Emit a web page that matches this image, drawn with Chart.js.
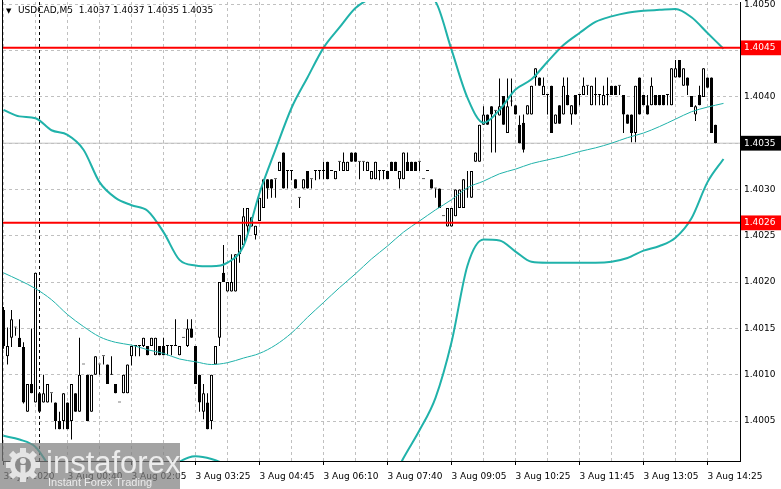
<!DOCTYPE html>
<html>
<head>
<meta charset="utf-8">
<script src="https://cdn.jsdelivr.net/npm/chart.js@4.4.0/dist/chart.umd.min.js"></script>
<style>
  html, body { margin: 0; padding: 0; background: #fff; }
  canvas { display: block; }
</style>
</head>
<body>
<canvas id="chart" width="781" height="489"></canvas>
<script>
// USDCAD M5 candles, values in pips above 1.4000 (one entry per bar)
const base = 1.4;
const opens = [
  17.0,12.0,14.0,15.1,14.0,13.0,6.0,9.0,7.0,8.0,
  7.0,7.0,8.0,7.0,5.0,5.0,7.0,5.0,8.0,6.0,
  11.1,10.0,6.0,10.0,11.1,12.0,11.1,10.0,9.0,7.0,
  8.0,8.0,12.0,13.1,13.1,13.1,13.1,13.1,12.1,13.1,
  13.1,13.1,13.1,13.1,12.1,14.0,13.1,15.0,13.1,10.0,
  6.0,7.0,5.0,11.1,14.0,21.0,19.0,19.0,19.0,23.0,
  24.0,26.0,26.0,25.1,26.6,28.0,31.1,31.1,31.1,32.0,
  34.0,32.0,32.0,31.1,29.1,30.1,32.0,31.1,32.0,32.0,
  32.0,33.0,32.0,31.1,33.0,32.0,32.0,34.0,34.0,33.0,
  33.0,32.0,31.1,31.1,32.0,32.0,32.0,33.0,33.0,31.1,
  31.1,33.0,33.0,33.0,33.0,31.1,32.0,31.1,30.1,30.1,
  27.1,26.0,26.0,27.1,28.0,28.0,30.0,29.1,33.0,33.0,
  37.0,38.1,39.0,38.5,38.0,40.1,36.1,39.5,39.1,37.0,
  37.2,38.1,38.1,42.1,42.1,40.2,40.2,41.2,37.1,39.1,
  38.1,40.2,38.1,40.2,40.2,40.2,41.2,39.1,40.2,40.2,
  39.1,40.2,41.2,41.2,41.2,40.2,38.1,38.1,36.1,42.1,
  40.2,39.1,39.1,40.2,40.2,40.2,40.2,39.1,42.1,44.0,
  41.2,42.1,40.1,38.1,40.2,40.0,42.1,42.1,37.0
];
const highs = [
  17.3,15.1,17.0,15.1,16.0,13.5,9.0,15.0,21.0,8.1,
  10.0,9.0,8.0,7.0,6.0,8.0,7.0,9.0,8.0,14.0,
  11.1,10.0,10.0,12.0,11.1,12.0,11.1,12.0,9.0,7.0,
  10.0,11.1,13.1,13.1,13.1,14.0,13.1,14.0,14.0,13.1,
  14.0,13.1,13.1,16.0,13.1,14.0,16.0,16.0,13.1,10.0,
  9.0,8.0,10.0,13.1,20.0,24.0,20.0,23.0,23.0,25.1,
  28.0,28.0,27.0,26.1,29.1,31.1,31.1,31.1,31.1,33.0,
  34.0,32.0,32.0,31.1,29.1,31.1,32.0,31.1,32.0,32.0,
  33.0,33.0,32.0,32.0,33.0,34.0,33.0,34.0,34.0,33.0,
  33.0,33.0,32.0,33.0,32.0,32.0,32.0,33.0,33.0,32.0,
  34.0,34.0,33.0,33.0,33.0,31.1,32.0,31.1,30.1,30.1,
  27.1,28.0,28.0,30.0,30.0,31.1,32.0,32.0,34.0,37.0,
  39.0,38.1,39.0,38.5,42.0,40.1,42.0,42.0,39.1,38.0,
  38.1,39.1,41.2,43.1,42.1,42.1,40.2,41.2,38.1,39.1,
  42.1,42.1,39.1,40.2,40.2,42.1,41.2,41.2,42.1,40.2,
  41.2,42.1,41.2,41.2,41.2,40.2,38.1,38.1,41.2,42.1,
  40.2,40.2,42.1,40.2,40.2,40.2,40.2,43.1,44.0,44.0,
  43.1,42.1,40.1,39.1,41.2,43.1,42.1,42.1,37.0
];
const lows = [
  12.8,11.1,13.0,14.2,13.0,6.9,6.0,8.0,7.0,6.0,
  7.0,7.0,7.0,4.1,4.1,4.1,4.1,3.0,6.0,6.0,
  11.1,5.0,6.0,10.0,10.0,11.1,9.0,10.0,8.0,7.0,
  8.0,8.0,11.0,12.0,12.0,13.0,12.1,13.1,12.1,12.1,
  12.1,12.1,12.1,13.1,12.1,14.0,13.0,14.0,9.0,6.0,
  5.2,4.1,4.1,11.1,13.1,20.0,19.0,19.0,19.0,22.1,
  24.0,25.0,26.0,24.6,26.6,28.0,29.0,29.1,29.1,32.0,
  30.1,30.1,31.0,30.1,28.0,30.1,30.1,30.1,31.0,31.1,
  31.1,31.1,32.0,31.1,32.0,32.0,32.0,33.0,33.0,31.1,
  32.0,32.0,31.1,31.1,31.0,31.1,31.1,32.0,32.0,30.1,
  31.1,32.0,32.0,32.0,32.0,31.1,32.0,30.1,29.1,28.0,
  27.1,26.0,26.0,27.1,28.0,28.0,29.1,29.1,33.0,33.0,
  37.0,37.0,34.0,34.0,38.0,37.0,36.1,39.0,38.1,35.0,
  34.0,38.1,38.1,41.2,41.2,40.2,38.1,36.1,37.1,37.1,
  38.1,39.1,37.0,38.1,39.1,40.2,40.2,39.1,39.1,39.1,
  39.1,39.1,40.2,40.2,40.2,36.1,37.1,35.1,35.1,38.1,
  39.1,38.1,39.1,39.1,39.1,39.1,39.1,39.1,42.1,42.1,
  41.2,40.2,38.9,37.4,39.1,40.0,41.0,36.1,35.0
];
const closes = [
  13.1,13.1,16.0,15.1,13.0,7.0,9.0,8.0,21.0,6.0,
  8.0,9.0,8.0,5.0,4.1,8.0,4.1,9.0,6.0,10.0,
  11.1,5.0,10.0,12.0,11.1,12.0,9.0,10.0,8.0,7.0,
  10.0,11.1,13.1,13.1,13.1,14.0,12.1,14.0,14.0,12.1,
  12.1,13.1,13.1,13.1,13.1,14.0,15.0,14.0,9.0,7.0,
  8.0,4.1,10.0,13.1,20.0,20.0,20.0,20.0,23.0,25.1,
  27.1,28.0,27.0,26.1,29.1,31.1,30.1,30.1,31.1,33.0,
  30.1,32.0,32.0,30.1,29.1,31.1,30.1,31.1,32.0,32.0,
  32.0,31.1,32.0,32.0,33.0,33.0,33.0,33.0,33.0,33.0,
  33.0,33.0,32.0,33.0,32.0,32.0,31.1,32.0,32.0,32.0,
  34.0,32.0,32.0,32.0,33.0,31.1,32.0,30.1,30.1,28.0,
  27.1,28.0,28.0,30.0,30.0,31.1,30.0,32.0,34.0,37.0,
  38.1,37.0,38.1,38.5,39.0,37.0,39.0,39.5,38.1,35.0,
  34.3,39.1,41.2,43.1,41.2,41.2,40.2,36.1,38.1,37.1,
  41.2,39.1,39.1,38.1,40.2,41.2,41.2,41.2,40.2,40.2,
  40.2,40.2,40.2,40.2,41.2,38.1,37.1,36.1,41.2,38.1,
  39.1,38.1,41.2,39.1,39.1,39.1,40.2,43.1,43.1,42.1,
  43.1,41.2,38.9,39.0,39.1,43.1,41.0,36.1,35.0
];

// Bollinger bands (bar index, pips above 1.4000)
const bbBars = [0,4,8,12,16,20,24,28,32,36,40,44,48,52,56,60,64,68,72,76,80,84,88,92,
  96,100,104,108,112,116,120,124,128,132,136,140,144,148,152,156,160,164,168,172,176,180];
const bbUpper = [38.6,37.9,37.7,36.4,35.9,34.3,30.8,29.1,28.3,27.7,25.4,22.4,21.8,21.7,22.1,23.9,
  29.6,34.3,38.8,42.1,45.3,47.5,49.6,50.7,51.4,51.6,51.2,50.3,45.1,39.9,37.2,38.6,
  40.8,41.9,43.8,45.6,46.9,48.1,48.7,49.1,49.3,49.4,49.5,48.6,46.9,45.2];
const bbMiddle = [21.0,20.2,19.3,18.1,16.5,15.2,14.1,13.5,13.2,12.7,12.3,11.7,11.4,11.1,11.3,11.8,
  12.3,13.2,14.5,16.2,17.8,19.4,20.9,22.5,23.9,25.4,26.6,27.8,28.9,30.2,30.9,31.7,
  32.2,32.8,33.2,33.6,34.1,34.5,35.0,35.6,36.1,36.8,37.6,38.4,38.9,39.3];
const bbLower = [3.4,3.0,2.2,-0.2,-1.9,-2.4,-2.6,-2.4,-2.1,-1.9,-0.9,0.6,1.2,0.9,0.2,-0.8,
  -5.1,-8.4,-9.9,-9.9,-9.9,-8.9,-7.8,-5.6,-2.4,1.0,4.0,7.5,13.5,21.8,24.6,24.5,
  23.3,22.2,22.1,22.1,22.1,22.1,22.2,22.6,23.4,23.9,24.8,26.9,30.8,33.3];

const levels = [1.40453, 1.40264];   // red horizontal lines
const bid = 1.4035;
const daySeparatorBar = 9;

const timeBars = [0,16,32,48,64,80,96,112,128,144,160,176];
const timeLabels = ['31 Jul 2020','3 Aug 00:40','3 Aug 02:05','3 Aug 03:25','3 Aug 04:45','3 Aug 06:10',
  '3 Aug 07:40','3 Aug 09:05','3 Aug 10:25','3 Aug 11:45','3 Aug 13:05','3 Aug 14:25'];
const gridBars = [0,8,16,24,32,40,48,56,64,72,80,88,96,104,112,120,128,136,144,152,160,168,176];
const priceTicks = [1.4005,1.4010,1.4015,1.4020,1.4025,1.4030,1.4035,1.4040,1.4045,1.4050];

const toPrice = p => +(base + p / 10000).toFixed(6);
const bodies = opens.map((o, i) => ({ x: i, y: [toPrice(o), toPrice(closes[i])] }));
const wicks = lows.map((l, i) => ({ x: i, y: [toPrice(l), toPrice(highs[i])] }));
const band = arr => arr.map((v, k) => ({ x: bbBars[k], y: toPrice(v) }));

const xMin = -0.125, xMax = 184.125;
const yMax = 1.405025, yMin = yMax - 459 / 92600;

const font = { family: 'DejaVu Sans', size: 9 };
const teal = '#20b2aa';
const markerIndex = priceTicks.length;   // ticks after this are price markers

const hline = (y, color, width, order) => ({
  type: 'line', data: [{ x: xMin, y }, { x: xMax, y }],
  borderColor: color, borderWidth: width, pointRadius: 0, order
});

// keep the plot area fixed: no extra room for overhanging labels
const noPadding = s => {
  s.paddingTop = 0; s.paddingBottom = 0; s.paddingLeft = 0; s.paddingRight = 0;
};

const overlay = {
  id: 'overlay',
  beforeDatasetsDraw(chart) {
    const ctx = chart.ctx, a = chart.chartArea;
    ctx.save();
    ctx.strokeStyle = '#000';
    ctx.lineWidth = 1;
    ctx.beginPath();
    ctx.moveTo(a.left - 0.5, 0);
    ctx.lineTo(a.left - 0.5, a.bottom);
    ctx.stroke();
    ctx.restore();
  },
  afterDraw(chart) {
    const ctx = chart.ctx;
    ctx.save();
    // title
    ctx.fillStyle = '#000';
    ctx.textBaseline = 'middle';
    ctx.font = '7px "DejaVu Sans"';
    ctx.fillText('\u25BC', 6, 11);
    ctx.font = '9px "DejaVu Sans"';
    ctx.fillText('USDCAD,M5  1.4037 1.4037 1.4035 1.4035', 18, 11);

    // watermark
    ctx.fillStyle = 'rgba(128,128,128,0.72)';
    ctx.fillRect(0, 443, 180, 46);
    ctx.translate(23, 465);
    ctx.fillStyle = '#e4e4e4';
    for (let k = 0; k < 8; k++) {
      ctx.save();
      ctx.rotate(k * Math.PI / 4);
      ctx.fillRect(-3, -17, 6, 6);
      ctx.restore();
    }
    ctx.beginPath(); ctx.arc(0, 0, 13, 0, 2 * Math.PI); ctx.fill();
    ctx.fillStyle = '#8a8a8a';
    ctx.beginPath(); ctx.arc(0, 0, 8, 0, 2 * Math.PI); ctx.fill();
    ctx.fillStyle = '#e4e4e4';
    ctx.beginPath(); ctx.arc(0, -4, 3, 0, 2 * Math.PI); ctx.fill();
    ctx.fillRect(-2.5, 0, 5, 9);
    ctx.setTransform(1, 0, 0, 1, 0, 0);
    ctx.textBaseline = 'alphabetic';
    ctx.fillStyle = '#ececec';
    ctx.font = '31px "Liberation Sans"';
    ctx.fillText('instaforex', 46, 473);
    ctx.font = '11px "Liberation Sans"';
    ctx.fillText('Instant Forex Trading', 48, 486);
    ctx.restore();
  }
};

new Chart(document.getElementById('chart'), {
  type: 'line',
  data: {
    datasets: [
      hline(levels[0], '#ff0000', 2, 0),
      hline(levels[1], '#ff0000', 2, 0),
      { type: 'line', data: band(bbUpper), borderColor: teal, borderWidth: 2, pointRadius: 0,
        cubicInterpolationMode: 'monotone', order: 1 },
      { type: 'line', data: band(bbLower), borderColor: teal, borderWidth: 2, pointRadius: 0,
        cubicInterpolationMode: 'monotone', order: 1 },
      { type: 'line', data: band(bbMiddle), borderColor: teal, borderWidth: 1, pointRadius: 0,
        cubicInterpolationMode: 'monotone', order: 1 },
      { type: 'bar', data: bodies, grouped: false, barThickness: 3, minBarLength: 1,
        backgroundColor: c => (closes[c.dataIndex] > opens[c.dataIndex] ? '#fff' : '#000'),
        borderColor: '#000', borderWidth: 1, borderSkipped: false, inflateAmount: 0, order: 2 },
      { type: 'bar', data: wicks, grouped: false, barThickness: 1,
        backgroundColor: '#000', borderWidth: 0, inflateAmount: 0, order: 3 },
      hline(bid, '#c0c0c0', 1, 4),
      { type: 'line', data: [{ x: daySeparatorBar, y: yMin }, { x: daySeparatorBar, y: yMax }],
        borderColor: '#000', borderWidth: 1, borderDash: [3, 3], pointRadius: 0, order: 5 }
    ]
  },
  options: {
    responsive: false,
    animation: false,
    events: [],
    layout: { padding: { left: 3, top: 2, right: 0, bottom: 0 } },
    plugins: { legend: { display: false }, tooltip: { enabled: false }, title: { display: false } },
    scales: {
      x: {
        type: 'linear', min: xMin, max: xMax, offset: false,
        afterBuildTicks: s => { s.ticks = gridBars.map(v => ({ value: v })); },
        afterFit: s => { s.height = 28; noPadding(s); },
        ticks: {
          autoSkip: false, maxRotation: 0, minRotation: 0, align: 'start', padding: 6,
          color: '#000', font,
          callback: v => { const k = timeBars.indexOf(v); return k >= 0 ? timeLabels[k] : ''; }
        },
        grid: {
          color: '#c0c0c0', lineWidth: 1, offset: false, drawTicks: true, tickLength: 4,
          tickColor: c => (timeBars.includes(c.tick.value) ? '#000' : 'rgba(0,0,0,0)'),
          tickBorderDash: []
        },
        border: { display: true, color: '#000', width: 1, dash: [3, 3] }
      },
      y: {
        type: 'linear', position: 'right', min: yMin, max: yMax,
        afterBuildTicks: s => {
          s.ticks = priceTicks.concat(levels, [bid]).map(v => ({ value: v }));
        },
        afterFit: s => { s.width = 41; noPadding(s); },
        ticks: {
          autoSkip: false, padding: 4, font,
          color: c => (c.index >= markerIndex ? '#fff' : '#000'),
          showLabelBackdrop: true,
          backdropColor: c => {
            if (c.index < markerIndex) return 'rgba(0,0,0,0)';
            return c.index === markerIndex + levels.length ? '#000' : '#ff0000';
          },
          backdropPadding: { top: 2, bottom: 2, left: 3, right: 6 },
          callback: v => v.toFixed(4)
        },
        grid: {
          color: c => (c.index >= markerIndex ? 'rgba(0,0,0,0)' : '#c0c0c0'),
          drawTicks: false
        },
        border: { display: true, color: '#000', width: 1, dash: [3, 3] }
      }
    }
  },
  plugins: [overlay]
});
</script>
</body>
</html>
